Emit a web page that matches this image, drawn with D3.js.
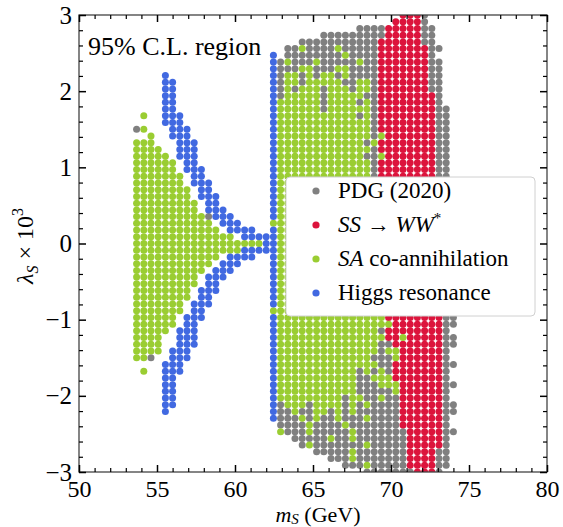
<!DOCTYPE html>
<html>
<head>
<meta charset="utf-8">
<script src="https://cdn.jsdelivr.net/npm/d3@7"></script>
<style>
  body { margin: 0; background: #fff; }
  text { font-family: "Liberation Serif", "DejaVu Serif", serif; fill: #000; }
</style>
</head>
<body>
<svg id="chart" width="563" height="527"></svg>
<script>
// scan grid, m_S in GeV (column numbers 8..52 in rowCells)
const firstCol = 8;
const massValues = [53.692, 54.154, 54.615, 55.077, 55.538, 56.0, 56.462, 56.923, 57.385, 57.846,
  58.308, 58.769, 59.231, 59.692, 60.154, 60.615, 61.077, 61.538, 62.0, 62.462,
  62.923, 63.385, 63.846, 64.308, 64.769, 65.231, 65.692, 66.154, 66.615, 67.077,
  67.538, 68.0, 68.462, 68.923, 69.385, 69.846, 70.308, 70.769, 71.231, 71.692,
  72.154, 72.615, 73.077, 73.538, 74.0];

// lambda_S x 10^3, top row first
const lambdaValues = [3.0, 2.912, 2.824, 2.735, 2.647, 2.559, 2.471, 2.382, 2.294, 2.206,
  2.118, 2.029, 1.941, 1.853, 1.765, 1.676, 1.588, 1.5, 1.412, 1.324,
  1.235, 1.147, 1.059, 0.971, 0.882, 0.794, 0.706, 0.618, 0.529, 0.441,
  0.353, 0.265, 0.176, 0.088, 0.0, -0.088, -0.176, -0.265, -0.353, -0.441,
  -0.529, -0.618, -0.706, -0.794, -0.882, -0.971, -1.059, -1.147, -1.235, -1.324,
  -1.412, -1.5, -1.588, -1.676, -1.765, -1.853, -1.941, -2.029, -2.118, -2.206,
  -2.294, -2.382, -2.471, -2.559, -2.647, -2.735, -2.824, -2.912, -3.0];

// which points of each row fall in which set: g = PDG, r = WW*, l = co-annihilation, b = Higgs
const rowCells = [
  "45-47r 48g",
  "44-47r 48g",
  "39-42g 43-47r 48-49g",
  "34-42g 43-47r 48-49g",
  "31-41g 42-47r 48-49g",
  "29-30g 31l 32-35g 36l 37-41g 42-48r 49-50g",
  "27b 29-36g 37l 38-41g 42-48r 49g",
  "27b 28g 29l 30-32g 33l 34-38g 39l 40-41g 42-48r 49-50g",
  "27b 28-30g 31-32l 33-35g 36-37l 38-41g 42-48r 49-50g",
  "12b 27b 28g 29-30l 31g 32l 33g 34-35l 36g 37l 38-41g 42-48r 49-50g",
  "12-13b 27b 28g 29-30l 31g 32-36l 37-38g 39-40l 41g 42-48r 49-50g",
  "12-13b 27b 28g 29l 30g 31-33l 34g 35-37l 38g 39-40l 41g 42-48r 49-50g",
  "12-13b 27b 28g 29-33l 34g 35-39l 40-41g 42-49r 50g",
  "12-13b 27b 28-33l 34g 35-38l 39g 40l 41g 42-49r 50g",
  "12-13b 27b 28-33l 34g 35-40l 41g 42-49r 50-51g",
  "9l 12-14b 27b 28-38l 39g 40l 41g 42-49r 50-51g",
  "12-14b 27b 28-40l 41g 42-49r 50-51g",
  "8g 9l 13-15b 27b 28-40l 41g 42-49r 50-51g",
  "10l 13-15b 27b 28-40l 41g 42l 43-49r 50-51g",
  "8-10l 14-16b 27b 28-39l 40g 41l 42-49r 50-51g",
  "8-11l 14-16b 27b 28-40l 41g 42-49r 50-51g",
  "8-12l 14-16b 27b 28-39l 40-41g 42l 43-49r 50-51g",
  "8-13l 15-16b 27b 28-40l 41g 42-49r 50-51g",
  "8-13l 15-17b 27b 28-40l 41g 42-49r 50-51g",
  "8-14l 16-17b 27b 28-40l 41g 42-49r 50-51g",
  "8-14l 16-18b 27b 28-41l 42-49r 50-51g",
  "8-15l 17-18b 27b 28-41l 42-49r 50-51g",
  "8-15l 17-19b 27b 28-41l 42-49r 50-51g",
  "8-16l 18-19b 27b 28-41l 42-49r 50-51g",
  "8-16l 18-20b 27b 28-41l 42-49r 50-51g",
  "8-17l 18g 19-21b 27b 28-41l 42-49r 50-51g",
  "8-18l 20-22b 27l 28-41l 42-49r 50-51g",
  "8-19l 21-24b 27b 28-41l 42-50r 51g",
  "8-21l 23-26b 27b 28-41l 42-50r 51g",
  "8-25l 26-27b 28-41l 42-50r 51g",
  "8-22l 23-27b 28-41l 42-50r 51g",
  "8-19l 21-24b 27b 28-41l 42-50r 51g",
  "8-18l 20-22b 27b 28-41l 42-50r 51g",
  "8-17l 19-21b 27b 28-41l 42-50r 51g",
  "8-16l 18-20b 27b 28-41l 42-50r 51g",
  "8-16l 18-19b 27b 28-41l 42-50r 51g",
  "8-15l 17-19b 27b 28-41l 42-50r 51g",
  "8-15l 17-18b 27b 28-41l 42-50r 51g",
  "8-14l 16-18b 27b 28-42l 43-50r 51g",
  "8-14l 16-17b 27l 28-42l 43-50r 51g",
  "8-13l 15-17b 27b 28-42l 43-50r 51-52g",
  "8-13l 15-16b 27b 28-43l 44-50r 51-52g",
  "8-12l 14-16b 27b 28-41l 42g 43-50r 51g",
  "8-11l 14-16b 27b 28-42l 43-44r 45l 46-50r 51-52g",
  "8-11l 14-16b 27b 28-41l 42-43g 44-50r 51-52g",
  "8-11l 13-15b 27b 28-41l 42g 43-44l 45-50r 51g",
  "8-9l 10g 13-15b 27b 28-40l 41-43g 44l 45-50r 51g",
  "12-14b 27b 28-41l 42-43g 44-50r 51-52g",
  "9l 12-14b 27b 28-38l 39g 40l 41g 42l 43g 44-50r 51g",
  "12-13b 27b 28-38l 39-40g 41-43l 44-50r 51g",
  "12-13b 27b 28-38l 39-41g 42-44l 45-50r 51-52g",
  "12-13b 27b 28-38l 39-43g 44l 45-50r 51g",
  "12-13b 27b 28-36l 37g 38-39l 40-41g 42l 43-44g 45-50r 51g",
  "12-13b 27b 28g 29-31l 32g 33-36l 37g 38l 39g 40l 41-44g 45-50r 51-52g",
  "12b 27b 28-29g 30l 31-32g 33-34l 35g 36l 37g 38l 39-44g 45-50r 51-52g",
  "27b 28-30g 31l 32g 33l 34-35g 36l 37-39g 40l 41-44g 45-50r 51g",
  "28-31g 32l 33-36g 37l 38-44g 45-50r 51g",
  "28l 29-31g 32l 33-37g 38l 39-45g 46-50r 51-52g",
  "30-34g 35l 36-37g 38l 39-45g 46-50r 51g",
  "31g 32l 33-39g 40l 41-45g 46-50r 51g",
  "33-37g 38l 39-45g 46-49r 50-51g",
  "35-37g 38l 39-45g 46-49r 50-51g",
  "37-39g 40l 41-45g 46-49r 50-51g",
  "40-46g 47-49r 50g"
];

const categories = [
  { key: 'g', color: '#808080' },
  { key: 'r', color: '#dc143c' },
  { key: 'l', color: '#9acd32' },
  { key: 'b', color: '#4169e1' }
];

const xTicks = [50, 55, 60, 65, 70, 75, 80];
const yTicks = [-3, -2, -1, 0, 1, 2, 3];

// unpack the rows into points
const points = [];
rowCells.forEach((row, r) => {
  row.split(' ').forEach(tok => {
    const m = tok.match(/^(\d+)(?:-(\d+))?([grlb])$/);
    const a = +m[1], b = m[2] ? +m[2] : a;
    for (let c = a; c <= b; c++) {
      points.push({ m: massValues[c - firstCol], lam: lambdaValues[r], cat: m[3] });
    }
  });
});

const svg = d3.select('#chart');
const plotLeft = 79, plotRight = 547, plotTop = 15, plotBottom = 472;

const x = d3.scaleLinear().domain([50, 80]).range([plotLeft, plotRight]);
const y = d3.scaleLinear().domain([-3, 3]).range([plotBottom, plotTop]);

svg.append('clipPath').attr('id', 'plotclip')
  .append('rect').attr('x', plotLeft).attr('y', plotTop)
  .attr('width', plotRight - plotLeft).attr('height', plotBottom - plotTop);

const dots = svg.append('g').attr('clip-path', 'url(#plotclip)');
categories.forEach(cat => {
  dots.selectAll('circle.c' + cat.key)
    .data(points.filter(p => p.cat === cat.key))
    .enter().append('circle')
    .attr('class', 'c' + cat.key)
    .attr('cx', d => x(d.m))
    .attr('cy', d => y(d.lam))
    .attr('r', 3.5)
    .attr('fill', cat.color);
});

// frame
svg.append('rect')
  .attr('x', plotLeft).attr('y', plotTop)
  .attr('width', plotRight - plotLeft).attr('height', plotBottom - plotTop)
  .attr('fill', 'none').attr('stroke', '#444').attr('stroke-width', 1.3);

// ticks, pointing inward on all four sides
const xMinor = d3.range(50, 80.01, 1).filter(v => v % 5 !== 0);
const yMinor = d3.range(-3, 3.01, 0.2).map(v => +v.toFixed(1)).filter(v => Math.abs(v % 1) > 0.01);
const fmt = v => (v < 0 ? '\u2212' + Math.abs(v) : '' + v);

function styleAxis(g, w) {
  g.select('.domain').remove();
  g.selectAll('.tick line').attr('stroke', '#000').attr('stroke-width', w);
}

svg.append('g').attr('transform', `translate(0,${plotBottom})`)
  .call(d3.axisBottom(x).tickValues(xTicks).tickSize(-7).tickPadding(8).tickFormat(fmt))
  .call(g => styleAxis(g, 1.5))
  .selectAll('text').style('font-size', '24px').style('font-family', '"Liberation Serif", serif');
svg.append('g').attr('transform', `translate(0,${plotBottom})`)
  .call(d3.axisBottom(x).tickValues(xMinor).tickSize(-4).tickFormat(''))
  .call(g => styleAxis(g, 1.2));
svg.append('g').attr('transform', `translate(0,${plotTop})`)
  .call(d3.axisTop(x).tickValues(xTicks).tickSize(-7).tickFormat(''))
  .call(g => styleAxis(g, 1.5));
svg.append('g').attr('transform', `translate(0,${plotTop})`)
  .call(d3.axisTop(x).tickValues(xMinor).tickSize(-4).tickFormat(''))
  .call(g => styleAxis(g, 1.2));

svg.append('g').attr('transform', `translate(${plotLeft},0)`)
  .call(d3.axisLeft(y).tickValues(yTicks).tickSize(-7).tickPadding(7).tickFormat(fmt))
  .call(g => styleAxis(g, 1.5))
  .selectAll('text').style('font-size', '25px').style('font-family', '"Liberation Serif", serif');
svg.append('g').attr('transform', `translate(${plotLeft},0)`)
  .call(d3.axisLeft(y).tickValues(yMinor).tickSize(-4).tickFormat(''))
  .call(g => styleAxis(g, 1.2));
svg.append('g').attr('transform', `translate(${plotRight},0)`)
  .call(d3.axisRight(y).tickValues(yTicks).tickSize(-7).tickFormat(''))
  .call(g => styleAxis(g, 1.5));
svg.append('g').attr('transform', `translate(${plotRight},0)`)
  .call(d3.axisRight(y).tickValues(yMinor).tickSize(-4).tickFormat(''))
  .call(g => styleAxis(g, 1.2));

// axis titles
const xt = svg.append('text').attr('x', 318).attr('y', 522)
  .attr('text-anchor', 'middle').style('font-size', '22px');
xt.append('tspan').attr('font-style', 'italic').text('m');
xt.append('tspan').attr('font-style', 'italic').attr('dy', 2).style('font-size', '15px').text('S');
xt.append('tspan').attr('dy', -2).text(' (GeV)');

const yt = svg.append('text')
  .attr('transform', 'translate(33,246) rotate(-90)')
  .attr('text-anchor', 'middle').style('font-size', '24px');
yt.append('tspan').attr('font-style', 'italic').text('\u03bb');
yt.append('tspan').attr('font-style', 'italic').attr('dy', 5).style('font-size', '16px').text('S');
yt.append('tspan').attr('dy', -5).text(' \u00d7 10');
yt.append('tspan').attr('dy', -10).style('font-size', '16px').text('3');

// annotation
svg.append('text').attr('x', 88).attr('y', 55)
  .style('font-size', '26px').text('95% C.L. region');

// legend
const legend = svg.append('g');
legend.append('rect')
  .attr('x', 286).attr('y', 177).attr('width', 249).attr('height', 139)
  .attr('rx', 4).attr('fill', '#fff').attr('stroke', '#d0d0d0').attr('stroke-width', 1);

const legendRows = [
  { key: 'g', parts: [{ t: 'PDG (2020)' }] },
  { key: 'r', parts: [{ t: 'SS', i: true }, { t: ' \u2192 ' }, { t: 'WW', i: true }, { t: '*', sup: true }] },
  { key: 'l', parts: [{ t: 'SA', i: true }, { t: ' co-annihilation' }] },
  { key: 'b', parts: [{ t: 'Higgs resonance' }] }
];
const legendY = d3.scalePoint().domain(legendRows.map(d => d.key)).range([191, 293]);
legendRows.forEach(row => {
  const cat = categories.find(c => c.key === row.key);
  legend.append('circle').attr('cx', 316).attr('cy', legendY(row.key))
    .attr('r', 3.6).attr('fill', cat.color);
  const t = legend.append('text').attr('x', 338).attr('y', legendY(row.key) + 7)
    .style('font-size', '23px');
  row.parts.forEach(p => {
    const s = t.append('tspan').text(p.t);
    if (p.i) s.attr('font-style', 'italic');
    if (p.sup) s.attr('dy', -9).style('font-size', '15px');
  });
});
</script>
</body>
</html>
